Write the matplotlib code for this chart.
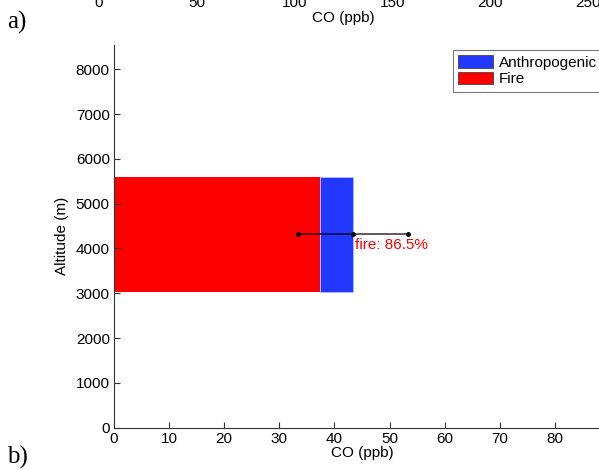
import matplotlib.pyplot as plt
from matplotlib.patches import Patch

plt.rcParams['font.family'] = ['Liberation Sans', 'DejaVu Sans']

# CO contribution in the plume layer
layer_bottom = 3030
layer_top = 5600
total_co = 43.3
fire_frac = 0.865
fire_co = total_co * fire_frac
anthro_co = total_co - fire_co
co_err = 10.0

xticks_a = [0, 50, 100, 150, 200, 250]
xticks_b = [0, 10, 20, 30, 40, 50, 60, 70, 80]
yticks_b = [0, 1000, 2000, 3000, 4000, 5000, 6000, 7000, 8000]

red = '#ff0000'
blue = '#2238ff'
fs = 11

fig = plt.figure(figsize=(5.99, 4.70), dpi=100)
W, H = 599, 470

# panel a) sits mostly above the visible area, only its x axis shows
ax_a = fig.add_axes([99 / W, (H + 9) / H, 489 / W, 0.5])
ax_a.set_xlim(0, 250)
ax_a.set_xticks(xticks_a)
ax_a.set_yticks([])
for s in ['top', 'right', 'left']:
    ax_a.spines[s].set_visible(False)
ax_a.tick_params(direction='in', labelsize=fs)
ax_a.set_xlabel('CO (ppb)', fontsize=fs, labelpad=1)

# panel b)
ax = fig.add_axes([114 / W, 42.3 / H, 496 / W, 382.7 / H])
ax.barh((layer_bottom + layer_top) / 2, fire_co, height=layer_top - layer_bottom,
        color=red, edgecolor='none')
ax.barh((layer_bottom + layer_top) / 2, anthro_co, left=fire_co,
        height=layer_top - layer_bottom, color=blue, edgecolor='#aabbff', linewidth=0.6)

mid = (layer_bottom + layer_top) / 2
ax.plot([total_co - co_err, total_co + co_err], [mid, mid], color='black', lw=1.2, alpha=0.75)
ax.plot([total_co - co_err, total_co, total_co + co_err], [mid] * 3, ls='none',
        marker='o', ms=2.5, color='black')
ax.text(total_co + 0.4, mid - 230, 'fire: %.1f%%' % (fire_frac * 100), color=red,
        fontsize=fs, va='center', ha='left')

ax.set_xlim(0, 90)
ax.set_ylim(0, 8540)
ax.set_xticks(xticks_b)
ax.set_yticks(yticks_b)
ax.spines['top'].set_visible(False)
ax.spines['right'].set_visible(False)
ax.spines['left'].set_color('#333333')
ax.spines['bottom'].set_color('#333333')
ax.tick_params(direction='in', labelsize=fs, length=4, color='#333333', pad=3)
ax.set_xlabel('CO (ppb)', fontsize=fs, labelpad=0)
ax.set_ylabel('Altitude (m)', fontsize=fs, labelpad=5)

handles = [Patch(facecolor=blue, edgecolor='#444444', lw=0.6, label='Anthropogenic'),
           Patch(facecolor=red, edgecolor='#444444', lw=0.6, label='Fire')]
leg = fig.legend(handles=handles, loc='upper left', bbox_to_anchor=(453 / W, (H - 50) / H),
                 fontsize=fs, frameon=True, fancybox=False, handlelength=2.3,
                 handleheight=0.9, handletextpad=0.35, labelspacing=0.12,
                 borderpad=0.35, borderaxespad=0)
leg.get_frame().set_edgecolor('#555555')
leg.get_frame().set_linewidth(0.8)

fig.text(7 / W, 1 - 22 / H, 'a)', family='Liberation Serif', fontsize=18, va='center')
fig.text(7 / W, 1 - 457 / H, 'b)', family='Liberation Serif', fontsize=18, va='center')

plt.savefig('out.png', dpi=100)
